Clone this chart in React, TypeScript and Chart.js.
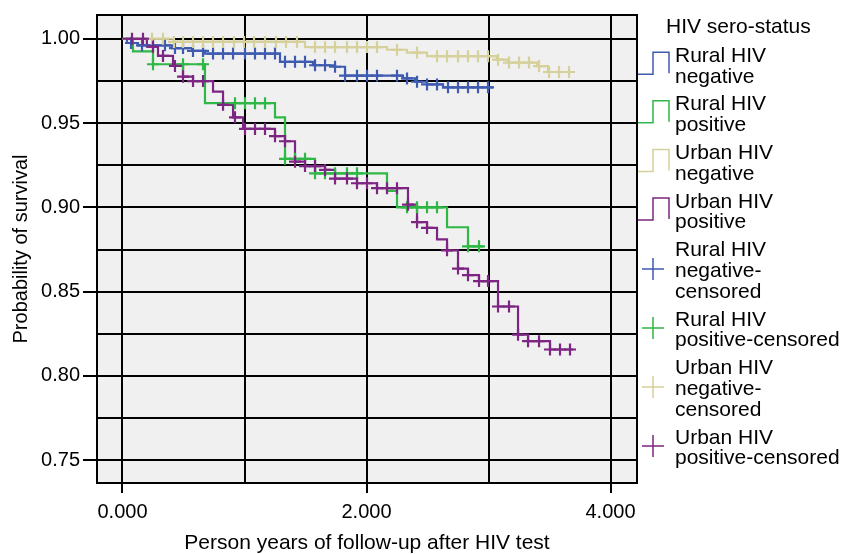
import React, { useEffect, useRef } from "react";
import { Chart, registerables } from "chart.js";

Chart.register(...registerables);

const FONT = "'Liberation Sans', Arial, Helvetica, sans-serif";

// Axis ticks
const xTicks = [0, 1, 2, 3, 4];
const xLabelled = [0, 2, 4];
const yTicks = [0.75, 0.775, 0.8, 0.825, 0.85, 0.875, 0.9, 0.925, 0.95, 0.975, 1.0];
const yLabelled = [0.75, 0.8, 0.85, 0.9, 0.95, 1.0];
const xTitle = "Person years of follow-up after HIV test";
const yTitle = "Probability of survival";

// Kaplan-Meier step data: event times and survival after each step
const ruralNegTimes = [0, 0.037, 0.127, 0.406, 0.57, 0.676, 1.291, 1.561, 1.742, 1.824, 2.299, 2.398, 2.496, 2.627];
const ruralNegSurv = [1.0, 0.9975, 0.9961, 0.9945, 0.9928, 0.9912, 0.9863, 0.9843, 0.9834, 0.9781, 0.9765, 0.9745, 0.9729, 0.9712];
const ruralNegEnd = 3.037;
const ruralNegCensored = [0.07, 0.16, 0.25, 0.348, 0.43, 0.496, 0.578, 0.66, 0.742, 0.824, 0.906, 1.004, 1.086, 1.168, 1.25, 1.332, 1.414, 1.496, 1.578, 1.66, 1.742, 1.824, 1.922, 2.004, 2.086, 2.25, 2.332, 2.414, 2.496, 2.578, 2.668, 2.75, 2.832, 2.914, 2.996];

const ruralPosTimes = [0, 0.086, 0.25, 0.676, 1.25, 1.332, 1.578, 2.168, 2.25, 2.66, 2.832];
const ruralPosSurv = [1.0, 0.9925, 0.9849, 0.9618, 0.9534, 0.9288, 0.9202, 0.9098, 0.9, 0.8882, 0.8769];
const ruralPosEnd = 2.955;
const ruralPosCensored = [0.25, 0.496, 0.66, 0.922, 1.004, 1.086, 1.168, 1.332, 1.414, 1.496, 1.578, 1.66, 1.742, 1.84, 1.922, 2.332, 2.414, 2.496, 2.578, 2.832, 2.922];

const urbanNegTimes = [0, 0.42, 1.496, 2.168, 2.332, 2.496, 3.07, 3.16, 3.398, 3.488];
const urbanNegSurv = [1.0, 0.9981, 0.9951, 0.9935, 0.9918, 0.9897, 0.9876, 0.9859, 0.9838, 0.9803];
const urbanNegEnd = 3.701;
const urbanNegCensored = [0.242, 0.332, 0.422, 0.496, 0.578, 0.66, 0.742, 0.824, 0.914, 0.996, 1.078, 1.168, 1.258, 1.34, 1.43, 1.578, 1.66, 1.742, 1.84, 1.922, 2.004, 2.086, 2.25, 2.414, 2.578, 2.66, 2.75, 2.832, 2.914, 2.996, 3.078, 3.168, 3.25, 3.332, 3.414, 3.496, 3.578, 3.66];

const urbanPosTimes = [0, 0.2, 0.291, 0.414, 0.496, 0.578, 0.742, 0.824, 0.906, 0.988, 1.25, 1.332, 1.414, 1.496, 1.66, 1.742, 1.922, 2.086, 2.34, 2.414, 2.496, 2.578, 2.66, 2.75, 2.832, 2.922, 3.078, 3.242, 3.324, 3.504];
const urbanPosSurv = [1.0, 0.9953, 0.9898, 0.9839, 0.9775, 0.9749, 0.9686, 0.9608, 0.9534, 0.9465, 0.9422, 0.9392, 0.9271, 0.9245, 0.9222, 0.9171, 0.9143, 0.9114, 0.9016, 0.8912, 0.8878, 0.881, 0.8745, 0.8637, 0.8598, 0.8563, 0.8412, 0.8245, 0.8206, 0.8157];
const urbanPosEnd = 3.693;
const urbanPosCensored = [0.078, 0.168, 0.25, 0.332, 0.43, 0.496, 0.578, 0.66, 0.824, 0.922, 1.004, 1.086, 1.168, 1.25, 1.332, 1.414, 1.496, 1.578, 1.66, 1.742, 1.84, 1.922, 2.004, 2.086, 2.168, 2.25, 2.34, 2.414, 2.496, 2.66, 2.75, 2.832, 2.922, 2.996, 3.078, 3.168, 3.242, 3.324, 3.414, 3.504, 3.586, 3.668];

const colors = ["#3f5bb0", "#2fb845", "#d6d09a", "#7c2582"];

const legendTitle = "HIV sero-status";
const legendLabels = [
  ["Rural HIV", "negative"],
  ["Rural HIV", "positive"],
  ["Urban HIV", "negative"],
  ["Urban HIV", "positive"],
  ["Rural HIV", "negative-", "censored"],
  ["Rural HIV", "positive-censored"],
  ["Urban HIV", "negative-", "censored"],
  ["Urban HIV", "positive-censored"],
];

function stepPoints(times: number[], surv: number[], end: number) {
  const pts = times.map((t, i) => ({ x: t, y: surv[i] }));
  pts.push({ x: end, y: surv[surv.length - 1] });
  return pts;
}

function censorPoints(times: number[], surv: number[], cens: number[]) {
  return cens.map((c) => {
    let s = surv[0];
    for (let i = 0; i < times.length; i++) if (times[i] <= c + 1e-9) s = surv[i];
    return { x: c, y: s };
  });
}

const isLabelled = (arr: number[], v: number) => arr.some((a) => Math.abs(a - v) < 1e-6);

const framePlugin = {
  id: "frame",
  beforeDraw(chart: any) {
    const { ctx, chartArea } = chart;
    const { left, top, right, bottom } = chartArea;
    ctx.save();
    ctx.fillStyle = "#f0f0f0";
    ctx.fillRect(left, top, right - left, bottom - top);
    ctx.restore();
  },
  afterDatasetsDraw(chart: any) {
    const { ctx, chartArea } = chart;
    const { left, top, right, bottom } = chartArea;
    ctx.save();
    ctx.strokeStyle = "#000";
    ctx.lineWidth = 2;
    ctx.strokeRect(left, top, right - left, bottom - top);
    ctx.restore();
  },
};

const legendPlugin = {
  id: "customLegend",
  afterDraw(chart: any) {
    const ctx = chart.ctx;
    const right = chart.chartArea.right;
    const textX = right + 38;
    const pitch = 20.8;
    const gap = 7;
    ctx.save();
    ctx.font = `21px ${FONT}`;
    ctx.fillStyle = "#000";
    ctx.textBaseline = "alphabetic";
    ctx.textAlign = "left";
    ctx.fillText(legendTitle, right + 29, 33);
    let b = 61.7;
    legendLabels.forEach((lines, i) => {
      const color = colors[i % 4];
      ctx.fillStyle = "#000";
      lines.forEach((ln, k) => ctx.fillText(ln, textX, b + k * pitch));
      ctx.strokeStyle = color;
      ctx.lineWidth = 1.5;
      ctx.beginPath();
      if (i < 4) {
        const x0 = right + 1, x1 = right + 16, x2 = right + 32;
        ctx.moveTo(x0, b + 12.5);
        ctx.lineTo(x1, b + 12.5);
        ctx.lineTo(x1, b - 9.5);
        ctx.lineTo(x2, b - 9.5);
        ctx.lineTo(x2, b + 11.5);
      } else {
        const cx = right + 16;
        const cy = b + (lines.length - 1) * 10.4 - 8;
        ctx.moveTo(cx - 11, cy);
        ctx.lineTo(cx + 11, cy);
        ctx.moveTo(cx, cy - 11);
        ctx.lineTo(cx, cy + 11);
      }
      ctx.stroke();
      b += lines.length * pitch + gap;
    });
    ctx.restore();
  },
};

export default function App() {
  const canvasRef = useRef<HTMLCanvasElement | null>(null);

  useEffect(() => {
    document.body.style.margin = "0";
    document.body.style.overflow = "hidden";
    const canvas = canvasRef.current;
    if (!canvas) return;

    const groups = [
      [ruralNegTimes, ruralNegSurv, ruralNegEnd, ruralNegCensored],
      [ruralPosTimes, ruralPosSurv, ruralPosEnd, ruralPosCensored],
      [urbanNegTimes, urbanNegSurv, urbanNegEnd, urbanNegCensored],
      [urbanPosTimes, urbanPosSurv, urbanPosEnd, urbanPosCensored],
    ] as [number[], number[], number, number[]][];

    const lineSets = groups.map((g, i) => ({
      label: legendLabels[i].join(" "),
      data: stepPoints(g[0], g[1], g[2]),
      showLine: true,
      stepped: "before" as const,
      borderColor: colors[i],
      backgroundColor: colors[i],
      borderWidth: 2.2,
      pointRadius: 0,
      fill: false,
      order: 8 - i,
    }));
    const markSets = groups.map((g, i) => ({
      label: legendLabels[i + 4].join(" "),
      data: censorPoints(g[0], g[1], g[3]),
      showLine: false,
      pointStyle: "cross" as const,
      pointRadius: 6,
      pointBorderWidth: 2.2,
      borderColor: colors[i],
      backgroundColor: colors[i],
      order: 4 - i,
    }));

    const chart = new Chart(canvas, {
      type: "scatter",
      data: { datasets: [...lineSets, ...markSets] as any },
      options: {
        animation: false,
        responsive: false,
        devicePixelRatio: 1,
        layout: { padding: { top: 11, right: 206, bottom: 0, left: 0 } },
        plugins: { legend: { display: false }, tooltip: { enabled: false } },
        scales: {
          x: {
            type: "linear",
            min: -0.209,
            max: 4.217,
            afterBuildTicks: (s: any) => {
              s.ticks = xTicks.map((v) => ({ value: v }));
            },
            afterFit: (s: any) => {
              s.height = 71;
            },
            grid: {
              color: "#000",
              lineWidth: 2,
              tickLength: 10,
              tickColor: (c: any) => (c.tick && isLabelled(xLabelled, c.tick.value) ? "#000" : "rgba(0,0,0,0)"),
            },
            border: { display: false },
            ticks: {
              autoSkip: false,
              maxRotation: 0,
              padding: 7,
              color: "#000",
              font: { family: FONT, size: 20 },
              callback: (v: any) => (isLabelled(xLabelled, Number(v)) ? Number(v).toFixed(3) : ""),
            },
            title: {
              display: true,
              text: xTitle,
              color: "#000",
              font: { family: FONT, size: 21, lineHeight: 1 },
              padding: { top: 0, bottom: 0 },
            },
          },
          y: {
            type: "linear",
            min: 0.7365,
            max: 1.0141,
            afterBuildTicks: (s: any) => {
              s.ticks = yTicks.map((v) => ({ value: v }));
            },
            afterFit: (s: any) => {
              s.width = 97;
            },
            grid: {
              color: "#000",
              lineWidth: 2,
              tickLength: 14,
              tickColor: (c: any) => (c.tick && isLabelled(yLabelled, c.tick.value) ? "#000" : "rgba(0,0,0,0)"),
            },
            border: { display: false },
            ticks: {
              autoSkip: false,
              padding: 3,
              color: "#000",
              font: { family: FONT, size: 20 },
              callback: (v: any) => (isLabelled(yLabelled, Number(v)) ? Number(v).toFixed(2) : ""),
            },
            title: {
              display: true,
              text: yTitle,
              color: "#000",
              font: { family: FONT, size: 20, lineHeight: 1 },
              padding: { top: 11, bottom: 0 },
            },
          },
        },
      },
      plugins: [framePlugin, legendPlugin],
    });

    return () => chart.destroy();
  }, []);

  return (
    <div style={{ width: 843, height: 554, background: "#fff" }}>
      <canvas ref={canvasRef} width={843} height={554} style={{ display: "block" }} />
    </div>
  );
}
